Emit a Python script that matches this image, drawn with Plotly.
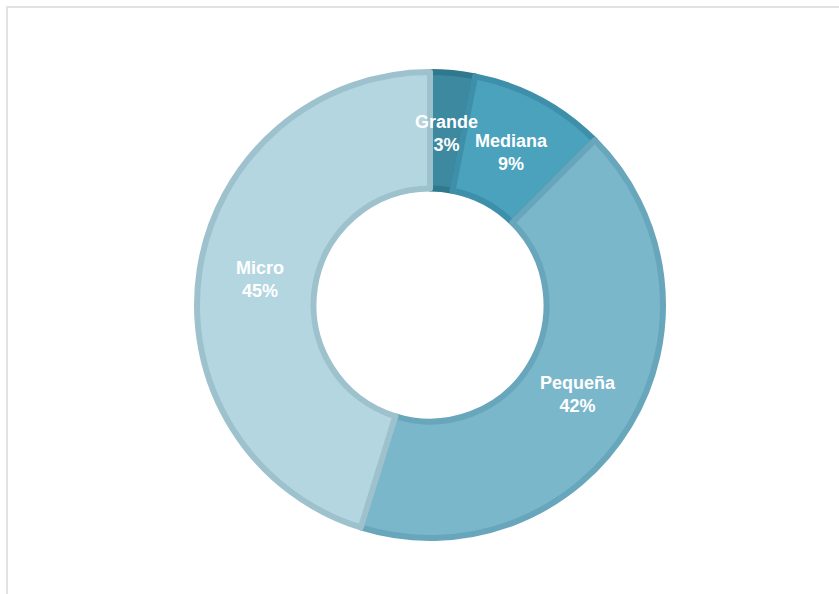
import math
import plotly.graph_objects as go

# Company size distribution
sizes = ["Grande", "Mediana", "Pequeña", "Micro"]
shares = [3.1, 9.4, 42.3, 45.2]
fill_colors = ["#3d89a0", "#4aa2bc", "#7bb7cb", "#b4d6e1"]
edge_colors = ["#2f788d", "#3e90aa", "#68a6bc", "#9ec2cd"]

W, H = 839, 594
cx, cy, R = 430, 305, 233  # pie centre / radius in pixels

fig = go.Figure()

fig.add_trace(go.Pie(
    labels=sizes,
    values=shares,
    hole=0.5,
    sort=False,
    direction="clockwise",
    rotation=0,
    marker=dict(colors=fill_colors, line=dict(color=edge_colors, width=6)),
    textinfo="none",
    domain=dict(x=[(cx - R) / W, (cx + R) / W],
                y=[(H - cy - R) / H, (H - cy + R) / H]),
    showlegend=False,
    hoverinfo="label+percent",
))

# slice labels placed in the middle of the ring
total = sum(shares)
start = 0.0
for name, v in zip(sizes, shares):
    mid = (start + v / 2) / total * 2 * math.pi
    start += v
    r = 0.74 * R
    fig.add_annotation(
        x=(cx + r * math.sin(mid)) / W,
        y=(H - cy + r * math.cos(mid)) / H,
        xref="paper", yref="paper",
        xanchor="center", yanchor="middle",
        text=f"<b>{name}<br>{round(v / total * 100)}%</b>",
        showarrow=False,
        font=dict(family="Liberation Sans, Arial, sans-serif", size=18, color="white"),
        align="center",
    )

# light frame around the chart area
fig.add_shape(type="rect", xref="paper", yref="paper",
              x0=7 / W, x1=1.05, y0=-0.05, y1=1 - 7 / H,
              line=dict(color="#e2e2e2", width=2), fillcolor="rgba(0,0,0,0)")

fig.update_layout(
    width=W,
    height=H,
    margin=dict(l=0, r=0, t=0, b=0),
    paper_bgcolor="white",
    plot_bgcolor="white",
)

fig.write_html("out.html", config={"displayModeBar": False},
               post_script="document.body.style.margin='0';")
